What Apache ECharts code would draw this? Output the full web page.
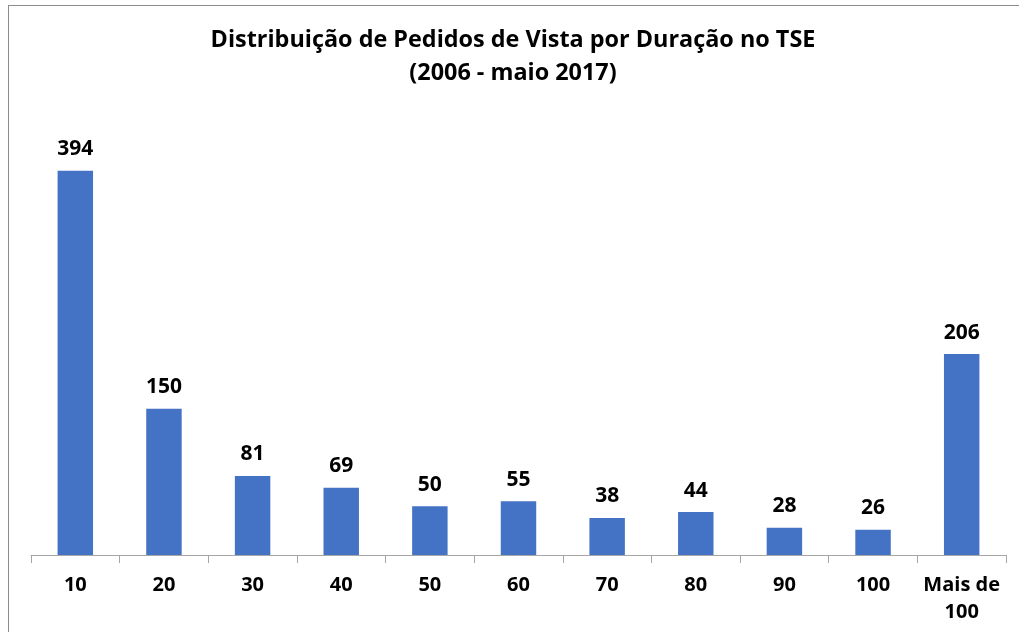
<!DOCTYPE html>
<html>
<head>
<meta charset="utf-8">
<script src="https://cdn.jsdelivr.net/npm/echarts@6/dist/echarts.min.js"></script>
<style>
  html, body { margin: 0; padding: 0; background: #fff; }
  #drew { width: 1019px; height: 632px; }
  .frame { position: absolute; left: 8px; top: 5px; width: 1030px; height: 700px; border: 1px solid #8c8c8c; box-sizing: border-box; pointer-events: none; }
</style>
</head>
<body>
<div id="drew"></div>
<div class="frame"></div>
<script>
   var categories = ['10', '20', '30', '40', '50', '60', '70', '80', '90', '100', 'Mais de\n100'];
   var pedidos = [394, 150, 81, 69, 50, 55, 38, 44, 28, 26, 206];

   var font = 'Open Sans';
   var myChart = echarts.init(document.getElementById('drew'));
   var option = {
       backgroundColor: '#fff',
       animation: false,
       textStyle: { fontFamily: font },
       title: {
           text: 'Distribuição de Pedidos de Vista por Duração no TSE\n(2006 - maio 2017)',
           left: 508,
           top: 19,
           textAlign: 'center',
           padding: 5,
           textStyle: {
               fontFamily: font,
               fontWeight: 'bold',
               fontSize: 23.4,
               lineHeight: 33,
               color: '#000'
           }
       },
       grid: { left: 31, right: 13, top: 116, bottom: 77, containLabel: false },
       xAxis: {
           type: 'category',
           data: categories,
           axisLine: { lineStyle: { color: '#a6a6a6', width: 1 } },
           axisTick: { show: true, length: 8, lineStyle: { color: '#a6a6a6' } },
           axisLabel: {
               color: '#000',
               fontWeight: 'bold',
               fontSize: 20,
               lineHeight: 27,
               margin: 17,
               interval: 0
           }
       },
       yAxis: {
           type: 'value',
           min: 0,
           max: 450,
           show: false,
           splitLine: { show: false }
       },
       series: [{
           type: 'bar',
           data: pedidos,
           barWidth: '40%',
           itemStyle: { color: '#4472c4' },
           label: {
               show: true,
               position: 'top',
               distance: 11,
               color: '#000',
               fontWeight: 'bold',
               fontSize: 21,
               fontFamily: font
           }
       }]
   };
   myChart.setOption(option);
</script>
</body>
</html>
